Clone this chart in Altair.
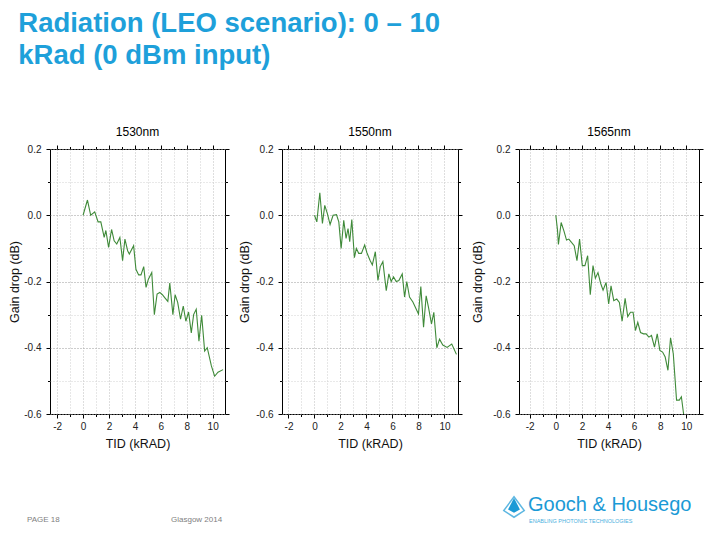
import altair as alt
import pandas as pd

FONT = "Liberation Sans"
GREEN = "#3f8a39"
BLUE = "#1ea0da"

# ---- data ----
tid_1530 = [0.0, 0.34, 0.59, 0.9, 1.16, 1.37, 1.63, 1.76, 1.97, 2.2, 2.4, 2.6, 2.84, 3.05, 3.23, 3.44, 3.57,
            3.9, 4.08, 4.29, 4.47, 4.68, 4.86, 5.04, 5.3, 5.5, 5.71, 5.92, 6.12, 6.33, 6.54, 6.69, 6.93, 7.1,
            7.3, 7.52, 7.73, 7.93, 8.14, 8.35, 8.53, 8.73, 8.94, 9.15, 9.38, 9.58, 9.9, 10.15, 10.41, 10.8]
gain_1530 = [0.0, 0.046, 0.0, 0.01, -0.02, -0.02, -0.067, -0.046, -0.097, -0.043, -0.077, -0.087, -0.067,
             -0.137, -0.072, -0.107, -0.117, -0.092, -0.163, -0.18, -0.18, -0.155, -0.218, -0.193, -0.173,
             -0.3, -0.238, -0.233, -0.24, -0.25, -0.26, -0.205, -0.3, -0.24, -0.263, -0.314, -0.274, -0.32,
             -0.292, -0.355, -0.3, -0.284, -0.38, -0.302, -0.41, -0.4, -0.455, -0.486, -0.474, -0.466]

tid_1550 = [0.0, 0.18, 0.41, 0.61, 0.79, 0.99, 1.2, 1.43, 1.69, 1.87, 2.05, 2.25, 2.43, 2.58, 2.71, 2.87,
            3.07, 3.22, 3.4, 3.61, 3.86, 4.04, 4.27, 4.45, 4.68, 4.88, 5.06, 5.26, 5.52, 5.72, 5.9, 6.08,
            6.29, 6.49, 6.75, 6.93, 7.1, 7.31, 7.57, 7.82, 8.0, 8.18, 8.39, 8.59, 8.77, 9.0, 9.18, 9.41,
            9.62, 9.87, 10.2, 10.56, 10.92]
gain_1550 = [0.0, -0.02, 0.068, -0.025, 0.03, 0.005, -0.028, 0.0, 0.002, -0.02, -0.1, -0.015, -0.07, -0.04,
             -0.08, -0.013, -0.128, -0.1, -0.115, -0.115, -0.09, -0.114, -0.136, -0.15, -0.11, -0.197,
             -0.155, -0.14, -0.228, -0.177, -0.2, -0.186, -0.2, -0.197, -0.177, -0.247, -0.2, -0.247,
             -0.262, -0.283, -0.298, -0.215, -0.338, -0.243, -0.278, -0.328, -0.293, -0.4, -0.374,
             -0.392, -0.399, -0.389, -0.42]

tid_1565 = [0.0, 0.13, 0.2, 0.41, 0.62, 0.82, 1.0, 1.2, 1.41, 1.62, 1.82, 2.03, 2.23, 2.44, 2.64, 2.85,
            3.03, 3.23, 3.44, 3.62, 3.85, 4.05, 4.23, 4.44, 4.67, 4.87, 5.08, 5.31, 5.51, 5.72, 5.92, 6.1,
            6.28, 6.49, 6.72, 6.92, 7.13, 7.33, 7.56, 7.77, 7.97, 8.18, 8.38, 8.59, 8.79, 9.0, 9.25, 9.46,
            9.62, 9.79]
gain_1565 = [0.0, -0.045, -0.088, -0.022, -0.047, -0.075, -0.072, -0.082, -0.092, -0.137, -0.072, -0.152,
             -0.152, -0.122, -0.24, -0.152, -0.19, -0.173, -0.206, -0.226, -0.203, -0.268, -0.213, -0.258,
             -0.253, -0.263, -0.32, -0.251, -0.306, -0.293, -0.293, -0.348, -0.323, -0.354, -0.358, -0.358,
             -0.368, -0.363, -0.398, -0.358, -0.408, -0.413, -0.428, -0.468, -0.37, -0.418, -0.558, -0.558,
             -0.548, -0.6]

panel_names = ["1530nm", "1550nm", "1565nm"]
x_major = [-2, 0, 2, 4, 6, 8, 10]
x_minor = [-1, 1, 3, 5, 7, 9]
y_major = [-0.6, -0.4, -0.2, 0.0, 0.2]
y_minor = [-0.5, -0.3, -0.1, 0.1]

slide_title = ["Radiation (LEO scenario): 0 \u2013 10", "kRad (0 dBm input)"]
footer_page = "PAGE 18"
footer_place = "Glasgow 2014"
logo_name = "Gooch & Housego"
logo_tag = "ENABLING PHOTONIC TECHNOLOGIES"

XLAB = "datum.value < 0 ? '-' + format(-datum.value, 'd') : format(datum.value, 'd')"
YLAB = "datum.value < -0.0001 ? '-' + format(-datum.value, '.1f') : format(abs(datum.value), '.1f')"


def panel(tid, gain, name, width, xdom, ytp):
    df = pd.DataFrame({"tid": tid, "gain": gain})
    xs = alt.Scale(domain=xdom, nice=False, zero=False)
    ys = alt.Scale(domain=[-0.6, 0.2], nice=False, zero=False)
    base = alt.Chart(df)

    def lay(xaxis, yaxis, opacity):
        return base.mark_line(color=GREEN, strokeWidth=1.1, opacity=opacity).encode(
            x=alt.X("tid:Q", scale=xs, axis=xaxis),
            y=alt.Y("gain:Q", scale=ys, axis=yaxis),
        )

    minor = lay(
        alt.Axis(orient="bottom", values=x_minor, labels=False, title=None, domain=False,
                 tickSize=2.5, tickColor="black", grid=True, gridColor="#cfcfcf", gridDash=[1, 2]),
        alt.Axis(orient="left", values=y_minor, labels=False, title=None, domain=False,
                 tickSize=2.5, tickColor="black", grid=True, gridColor="#d2d2d2", gridDash=[1, 2]),
        0,
    )
    top = lay(
        alt.Axis(orient="top", values=x_major, labels=False, title=None, domain=False,
                 tickSize=4, tickColor="black", grid=False),
        alt.Axis(orient="right", values=y_major, labels=False, title=None, domain=False,
                 tickSize=4, tickColor="black", grid=False),
        0,
    )
    top_minor = lay(
        alt.Axis(orient="top", values=x_minor, labels=False, title=None, domain=False,
                 tickSize=2.5, tickColor="black", grid=False),
        alt.Axis(orient="right", values=y_minor, labels=False, title=None, domain=False,
                 tickSize=2.5, tickColor="black", grid=False),
        0,
    )
    main = lay(
        alt.Axis(orient="bottom", values=x_major, labelExpr=XLAB, title="TID (kRAD)",
                 domain=False, tickSize=4, tickColor="black", labelPadding=3, titlePadding=6,
                 grid=True, gridColor="#bdbdbd", gridDash=[1, 2]),
        alt.Axis(orient="left", values=y_major, labelExpr=YLAB, title="Gain drop (dB)",
                 domain=False, tickSize=4, tickColor="black", labelPadding=5, titlePadding=ytp,
                 grid=True, gridColor="#9a9a9a", gridDash=[1, 2]),
        1,
    )
    return (
        alt.layer(minor, top, top_minor, main)
        .resolve_axis(x="independent", y="independent")
        .properties(width=width, height=265,
                    title=alt.TitleParams(name, font=FONT, fontSize=12, fontWeight="normal",
                                          color="black", offset=5))
    )


p1 = panel(tid_1530, gain_1530, panel_names[0], 175, [-2.55, 10.95], 2)
p2 = panel(tid_1550, gain_1550, panel_names[1], 176, [-2.5, 11.04], 4)
p3 = panel(tid_1565, gain_1565, panel_names[2], 180, [-2.82, 10.97], 8)

panels = alt.hconcat(p1, p2, p3, spacing=8)

fdf = pd.DataFrame({"k": [0]})
fbase = alt.Chart(fdf)
f_page = fbase.mark_text(text=footer_page, font=FONT, fontSize=8, color="#808080", align="left",
                         baseline="middle").encode(x=alt.value(-23), y=alt.value(69))
f_place = fbase.mark_text(text=footer_place, font=FONT, fontSize=8, color="#808080", align="left",
                          baseline="middle").encode(x=alt.value(121), y=alt.value(69))
f_logo = fbase.mark_text(text=logo_name, font=FONT, fontSize=20, color="#1b9ad6",
                         align="left", baseline="middle").encode(x=alt.value(478), y=alt.value(54))
f_tag = fbase.mark_text(text=logo_tag, font=FONT, fontSize=5.5, color="#4bb0e0",
                        align="left", baseline="middle").encode(x=alt.value(479), y=alt.value(70))
f_icon_o = fbase.mark_point(shape="M0,-1L1,0.35L0,1L-1,0.35Z", filled=False, stroke="#1b9ad6",
                            strokeWidth=1.5, size=420).encode(x=alt.value(464), y=alt.value(56))
f_icon_i = fbase.mark_point(shape="M0,-1L0.75,0.45L0,0.85L-0.75,0.45Z", filled=True, fill="#1b9ad6",
                            opacity=1, size=250).encode(x=alt.value(464), y=alt.value(55))
footer = alt.layer(f_page, f_place, f_icon_o, f_icon_i, f_logo, f_tag).properties(
    width=630, height=76, view=alt.ViewBackground(stroke="transparent"))

chart = (
    alt.vconcat(panels, footer, spacing=0)
    .properties(
        title=alt.TitleParams(slide_title, anchor="start", font=FONT, fontSize=27.5, fontWeight="bold",
                              color=BLUE, lineHeight=32, dx=10, offset=56),
        padding={"left": 0, "top": 2, "right": 0, "bottom": 0},
    )
    .configure_view(stroke="black", strokeWidth=1)
    .configure_axis(labelFont=FONT, titleFont=FONT, labelFontSize=10, titleFontSize=12.5,
                    titleFontWeight="normal", labelColor="#222222", titleColor="#111111")
)

chart.save("out.html", embed_options={"renderer": "svg", "actions": False})
